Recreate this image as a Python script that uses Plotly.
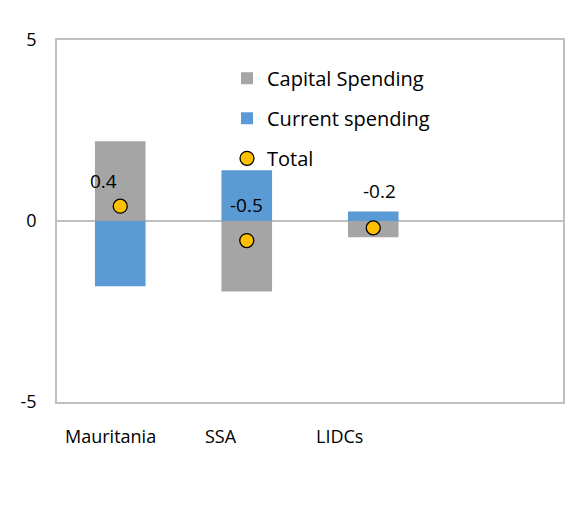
import plotly.graph_objects as go

categories = ["Mauritania", "SSA", "LIDCs"]
capital_spending = [2.2, -1.95, -0.45]
current_spending = [-1.8, 1.4, 0.26]
total = [0.41, -0.54, -0.19]
total_labels = ["0.4", "-0.5", "-0.2"]
y_ticks = [-5, 0, 5]
y_ticktext = ["-5", "0", "5"]

xpos = list(range(len(categories)))
FONT = "Open Sans"

fig = go.Figure()
fig.add_trace(go.Bar(x=xpos, y=capital_spending, name="Capital Spending",
                     marker=dict(color="#A5A5A5", line=dict(width=0)), width=0.4,
                     legendgroup="a"))
fig.add_trace(go.Bar(x=xpos, y=current_spending, name="Current spending",
                     marker=dict(color="#5B9BD5", line=dict(width=0)), width=0.4,
                     legendgroup="b"))
fig.add_trace(go.Scatter(x=xpos, y=total, name="Total", mode="markers",
                         marker=dict(color="#FFC000", size=14, line=dict(color="black", width=1.3)),
                         legendgroup="c"))

# label offsets (pixels) for the total values
shifts = [(-17, 25), (0, 36), (6, 37)]
for xi, yi, lab, (dx, dy) in zip(xpos, total, total_labels, shifts):
    fig.add_annotation(x=xi, y=yi, text=lab, showarrow=False,
                       xshift=dx, yshift=dy, font=dict(size=19, color="black", family=FONT))

# category labels below the axis (offset as in the original)
cat_shifts = [-10, -26, -34]
for xi, lab, dx in zip(xpos, categories, cat_shifts):
    fig.add_annotation(x=xi, y=0, yref="paper", text=lab, showarrow=False,
                       xshift=dx, yshift=-34, yanchor="middle",
                       font=dict(size=18, color="black", family=FONT))

fig.update_layout(
    width=566, height=516,
    barmode="relative", bargap=0.6,
    paper_bgcolor="white", plot_bgcolor="white",
    margin=dict(l=49, r=9, t=32, b=122),
    font=dict(family=FONT, size=18, color="black"),
    showlegend=True,
    legend=dict(x=0.336, y=0.948, xanchor="left", yanchor="top",
                traceorder="grouped", tracegroupgap=11,
                font=dict(size=20), bgcolor="rgba(0,0,0,0)", itemwidth=30),
    xaxis=dict(range=[-0.5, 3.5], tickvals=xpos, showticklabels=False,
               showgrid=False, zeroline=False, showline=True, linecolor="#BFBFBF",
               linewidth=1.5, mirror=True, ticks=""),
    yaxis=dict(range=[-5, 5], tickvals=y_ticks, ticktext=y_ticktext, showgrid=False,
               zeroline=True, zerolinecolor="#BFBFBF", zerolinewidth=1.5,
               showline=True, linecolor="#BFBFBF", linewidth=1.5, mirror=True,
               ticks="outside", ticklen=15, tickcolor="rgba(0,0,0,0)",
               tickfont=dict(size=18)),
)

fig.write_html("out.html")
